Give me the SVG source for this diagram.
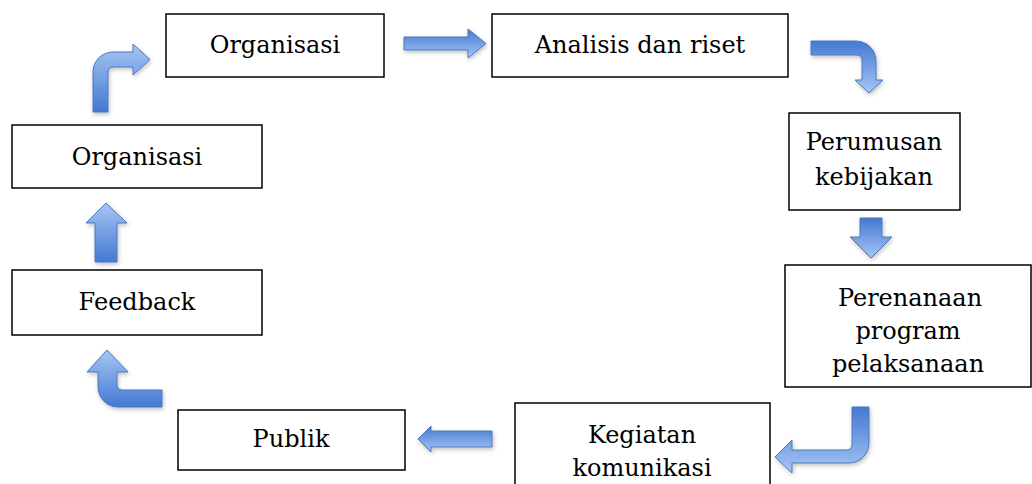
<svg xmlns="http://www.w3.org/2000/svg" width="1032" height="484" viewBox="0 0 1032 484">
<style>
.box{fill:#fff;stroke:#000;stroke-width:1.5}
.t{font-family:"DejaVu Serif","Liberation Serif",serif;font-size:24px;fill:#000;text-anchor:middle}
.ad{fill:url(#gd);stroke:#4a78bd;stroke-width:1;filter:url(#sh)}
.au{fill:url(#gu);stroke:#4a78bd;stroke-width:1;filter:url(#sh)}
</style>
<defs>
<linearGradient id="gd" x1="0" y1="0" x2="0" y2="1"><stop offset="0" stop-color="#4478d2"/><stop offset="1" stop-color="#a6c6f5"/></linearGradient>
<linearGradient id="gu" x1="0" y1="0" x2="0" y2="1"><stop offset="0" stop-color="#a6c6f5"/><stop offset="1" stop-color="#4478d2"/></linearGradient>
<filter id="sh" x="-20%" y="-20%" width="140%" height="140%"><feDropShadow dx="1" dy="2" stdDeviation="2" flood-color="#000" flood-opacity="0.25"/></filter>
</defs>
<g id="connectors">
<path class="ad" d="M404,37 H468 V29 L486,43.5 L468,58 V50 H404 Z"/>
<path class="ad" d="M811,41 H856 A20,20 0 0 1 876,61 V80 H883 L869,93 L855,80 H862 V60 A5,5 0 0 0 857,55 H811 Z"/>
<path class="ad" d="M860,218 H882 V237 H892 L871,258 L850,237 H860 Z"/>
<path class="ad" d="M869,407 V443 A20,20 0 0 1 849,463 H792 V473 L775,457 L792,440 V450 H847 A5,5 0 0 0 852,445 V407 Z"/>
<path class="ad" d="M492,431 H431 V426 L418,439 L431,452 V447 H492 Z"/>
<path class="au" d="M162,390 H122 A5,5 0 0 1 117,385 V372 H128 L107,350 L87,372 H98 V387 A20,20 0 0 0 118,407 H162 Z"/>
<path class="au" d="M95,262 V223 H86 L106,203 L127,223 H117 V262 Z"/>
<path class="au" d="M93,112 V72 A20,20 0 0 1 113,52 H133 V44 L150,59.5 L133,75 V67 H113 A5,5 0 0 0 108,72 V112 Z"/>
</g>
<g id="n1"><rect class="box" x="166" y="14" width="218" height="63"/><text class="t" x="275" y="53">Organisasi</text></g>
<g id="n2"><rect class="box" x="492" y="14" width="296" height="63"/><text class="t" x="640" y="53">Analisis dan riset</text></g>
<g id="n3"><rect class="box" x="789" y="113" width="171" height="97"/><text class="t" x="874" y="150">Perumusan</text><text class="t" x="874" y="185">kebijakan</text></g>
<g id="n4"><rect class="box" x="785" y="265" width="246" height="122"/><text class="t" x="910" y="306">Perenanaan</text><text class="t" x="908" y="339">program</text><text class="t" x="908" y="372">pelaksanaan</text></g>
<g id="n5"><rect class="box" x="515" y="403" width="255" height="90"/><text class="t" x="642" y="443">Kegiatan</text><text class="t" x="642" y="476">komunikasi</text></g>
<g id="n6"><rect class="box" x="178" y="410" width="227" height="60"/><text class="t" x="291" y="447">Publik</text></g>
<g id="n7"><rect class="box" x="12" y="270" width="250" height="65"/><text class="t" x="137" y="310">Feedback</text></g>
<g id="n8"><rect class="box" x="12" y="125" width="250" height="63"/><text class="t" x="137" y="165">Organisasi</text></g>
</svg>
